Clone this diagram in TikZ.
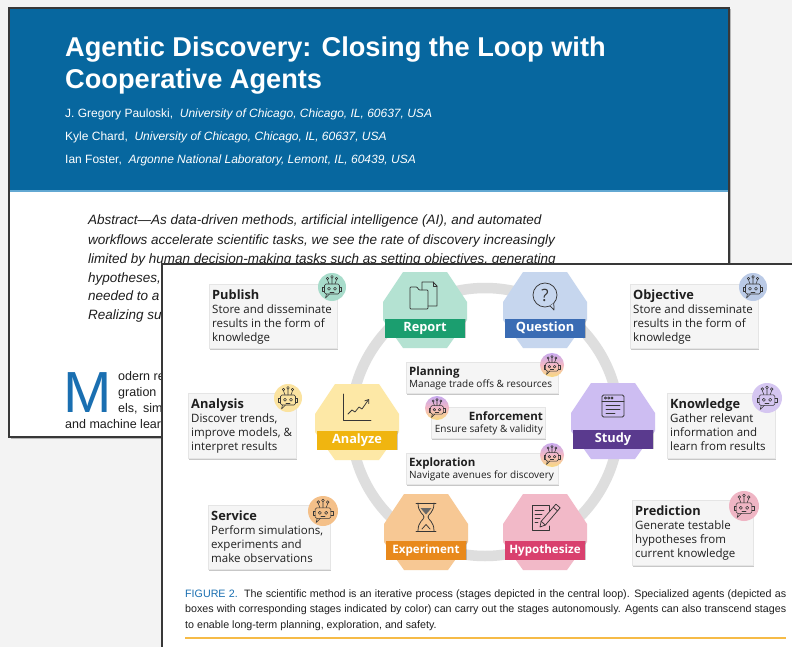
\documentclass[tikz,border=0pt]{standalone}
\usepackage{fontspec}
\setmainfont{Liberation Sans}
\newfontfamily\osans{Open Sans}
\usetikzlibrary{shadows,arrows.meta}

% paper and page colours
\definecolor{deskgray}{HTML}{F3F3F3}
\definecolor{pageedge}{HTML}{383838}
\definecolor{headerblue}{HTML}{07679F}
\definecolor{headerline}{HTML}{62A8D2}
\definecolor{capblue}{HTML}{1A6FB1}
\definecolor{rulegold}{HTML}{F6BB47}
\definecolor{bodyink}{HTML}{1E1E1E}
% diagram colours
\definecolor{ringgray}{HTML}{DEDEDE}
\definecolor{boxgray}{HTML}{F5F5F5}
\definecolor{ink}{HTML}{1F1F1F}
\definecolor{iconink}{HTML}{363636}
\definecolor{reportL}{HTML}{B4E2D2}\definecolor{reportD}{HTML}{1B9E6F}
\definecolor{questionL}{HTML}{C6D6EE}\definecolor{questionD}{HTML}{3A6CB4}
\definecolor{studyL}{HTML}{CDBDF2}\definecolor{studyD}{HTML}{5A3A8E}
\definecolor{hypoL}{HTML}{F2B9C8}\definecolor{hypoD}{HTML}{D9406E}
\definecolor{experL}{HTML}{F7C894}\definecolor{experD}{HTML}{E8891C}
\definecolor{analyzeL}{HTML}{FDE8A6}\definecolor{analyzeD}{HTML}{F0B510}
\definecolor{botmint}{HTML}{A8DCCB}
\definecolor{botblue}{HTML}{BACAE6}
\definecolor{botyellow}{HTML}{FBE3A0}
\definecolor{botlav}{HTML}{D5C6F1}
\definecolor{botpeach}{HTML}{F4C089}
\definecolor{botpink}{HTML}{EFB5C4}
\definecolor{gradtop}{HTML}{C7A9EE}
\definecolor{gradmid}{HTML}{F4B9C4}
\definecolor{gradbot}{HTML}{F7DA7E}

\tikzset{
  agentbox/.style={fill=boxgray, draw=black!10, line width=0.4pt, inner sep=0pt, anchor=north west,
    drop shadow={shadow xshift=1pt, shadow yshift=-1.3pt, opacity=0.22, fill=black}},
  agenttext/.style={anchor=base west, inner sep=0pt, text=ink},
  botdisc/.style={circle, inner sep=0pt},
  stageband/.style={minimum width=80pt, minimum height=19pt, inner sep=0pt, text=white,
    drop shadow={shadow xshift=0.6pt, shadow yshift=-0.8pt, opacity=0.2, fill=black}},
  stageicon/.style={draw=iconink, line width=0.75pt, line cap=round, line join=round},
  paperline/.style={anchor=base west, inner sep=0pt},
}

% agent card text: bold title over body lines
\newcommand\agentpar[3]{%
  \parbox[t]{#1}{\osans\raggedright\fontsize{11.5}{14}\selectfont
    {\fontsize{12.8}{14}\selectfont\bfseries #2}\\#3}}
% smaller cards in the middle of the loop
\newcommand\hubpar[3]{%
  \parbox[t]{150pt}{\osans#1\fontsize{10}{12}\selectfont
    {\fontsize{11.5}{12}\selectfont\bfseries #2}\\#3}}

% line drawing of the agent head inside a disc
\newcommand\botface[2]{%
  \begin{scope}[shift={#1}, yshift=-1pt, scale=#2, draw=iconink, line width=0.55pt, line cap=round, line join=round]
    \draw (-3,-4) -- (-4.5,-8.2) (0,-4) -- (0,-9.8) (3,-4) -- (4.5,-8.2);
    \draw (-4.5,-9.5) circle (1.3) (0,-11.1) circle (1.3) (4.5,-9.5) circle (1.3);
    \draw[rounded corners=1.5pt] (-7.5,-4) rectangle (7.5,6);
    \draw (-7.5,-0.5) -- (-9.5,-0.5) -- (-9.5,3.5) -- (-7.5,3.5);
    \draw (7.5,-0.5) -- (9.5,-0.5) -- (9.5,3.5) -- (7.5,3.5);
    \draw (-3,0.8) circle (1.5) (3,0.8) circle (1.5);
    \draw (-2,3.8) -- (2,3.8);
    \draw (-5.5,6) -- (-6.5,10) -- (-2.5,6);
  \end{scope}}

% stage of the loop: name, centre, light fill, band colour, label, label size, icon
\newcommand\stage[7]{%
  \begin{scope}[shift={#2}]
    \colorlet{hexlight}{#3}
    \fill[#3] (-22,-38) -- (22,-38) -- (42,-8) -- (42,10) -- (22,38) -- (-22,38) -- (-42,10) -- (-42,-8) -- cycle;
    \node[stageband, fill=#4, font=\osans\bfseries\fontsize{#6}{#6}\selectfont] (#1) at (0,18) {#5};
    \begin{scope}[shift={(0,-15)}, stageicon] #7 \end{scope}
  \end{scope}}

\begin{document}
\begin{tikzpicture}[x=1pt, y=-1pt]
\useasboundingbox (0,0) rectangle (792,647);
\clip (0,0) rectangle (792,647);
\fill[deskgray] (0,0) rectangle (792,647);

% ================= article first page (behind) =================
\path[fill=white, drop shadow={shadow xshift=1.5pt, shadow yshift=-1.5pt, opacity=0.25, fill=black}] (9,8) rectangle (729,437);
\fill[headerblue] (9,8) rectangle (729,191);
\draw[headerline, line width=1.2pt] (9,191) -- (729,191);

\node[paperline, text=white, font=\bfseries\fontsize{27.2}{32}\selectfont] (title1) at (65,57) {Agentic Discovery: Closing the Loop with};
\node[paperline, text=white, font=\bfseries\fontsize{27.2}{32}\selectfont] (title2) at (65,89) {Cooperative Agents};

\node[paperline, text=white, font=\fontsize{12}{14}\selectfont] (auth1) at (65,118) {J. Gregory Pauloski,\ \ \textit{University of Chicago, Chicago, IL, 60637, USA}};
\node[paperline, text=white, font=\fontsize{12}{14}\selectfont] (auth2) at (65,141) {Kyle Chard,\ \ \textit{University of Chicago, Chicago, IL, 60637, USA}};
\node[paperline, text=white, font=\fontsize{12}{14}\selectfont] (auth3) at (65,164) {Ian Foster,\ \ \textit{Argonne National Laboratory, Lemont, IL, 60439, USA}};

\begin{scope}[every node/.style={paperline, text=bodyink, font=\itshape\fontsize{13.5}{15}\selectfont}]
  \node (abs1) at (88,225) {Abstract---As data-driven methods, artificial intelligence (AI), and automated};
  \node (abs2) at (88,244) {workflows accelerate scientific tasks, we see the rate of discovery increasingly};
  \node (abs3) at (88,263) {limited by human decision-making tasks such as setting objectives, generating};
  \node (abs4) at (88,282) {hypotheses,};
  \node (abs5) at (88,300) {needed to a};
  \node (abs6) at (88,319) {Realizing su};
\end{scope}

\node[paperline, text=capblue, text depth=0pt, font=\fontsize{58}{58}\selectfont] (dropcap) at (63,412) {M};
\begin{scope}[every node/.style={paperline, text=bodyink, font=\fontsize{12.5}{15}\selectfont}]
  \node (body1) at (118,380) {odern re};
  \node (body2) at (118,396) {gration};
  \node (body3) at (118,412) {els,\hspace{5.5pt}sim};
  \node (body4) at (65,428) {and machine learn};
\end{scope}
\draw[pageedge, line width=1.3pt] (9,8) rectangle (729,437);

% ================= figure page (front) =================
\path[fill=white, draw=pageedge, line width=1.5pt,
  drop shadow={shadow xshift=-1.5pt, shadow yshift=-1.5pt, opacity=0.25, fill=black}] (162,264) rectangle (820,690);

% the loop
\draw[ringgray, line width=10.5pt] (485,422) circle (134);

% stages
\stage{report}{(425,310)}{reportL}{reportD}{Report}{12.8}{%
  \draw (3,11) -- (12,11) -- (12,-9) -- (8,-13) -- (-3,-13) -- (-3,-5);
  \draw (8,-13) -- (8,-9) -- (12,-9);
  \draw[rounded corners=0.8pt] (-15,-8) -- (-8,-8) -- (-6,-5) -- (3,-5) -- (3,14) -- (-15,14) -- cycle;}
\stage{question}{(545,310)}{questionL}{questionD}{Question}{12.8}{%
  \draw (0,0) circle (12);
  \draw[fill=hexlight] (5,10.9) -- (9,15) -- (8.8,8.3);
  \node[font=\osans\fontsize{17}{17}\selectfont, text=iconink, inner sep=0pt] (qmark) at (0,0.5) {?};}
\stage{study}{(613,421)}{studyL}{studyD}{Study}{12.8}{%
  \draw[rounded corners=1.5pt] (-11,-11) rectangle (11,11);
  \draw (-11,-5) -- (11,-5);
  \draw (-7.5,-8) circle (1.1) (-4.3,-8) circle (1.1) (-1.1,-8) circle (1.1);
  \draw (-7,-1) -- (7,-1) (-7,3) -- (7,3) (-7,7) -- (2,7);}
\stage{hypothesize}{(545,532)}{hypoL}{hypoD}{Hypothesize}{11.6}{%
  \draw (4,-3) -- (4,-12) -- (-13,-12) -- (-13,13) -- (4,13) -- (4,9);
  \draw (-10,-7) -- (-1,-7) (-10,-3) -- (-3,-3) (-10,1) -- (-5,1) (-10,5) -- (-7,5);
  \draw[fill=hexlight] (-5,10) -- (0.38,8.03) -- (15.13,-9.18) -- (10.88,-12.82) -- (-3.87,4.38) -- cycle;
  \draw (0.38,8.03) -- (-3.87,4.38) (12.53,-6.14) -- (8.27,-9.78);}
\stage{experiment}{(426,532)}{experL}{experD}{Experiment}{11.6}{%
  \draw (-10,-14) -- (10,-14) (-10,14) -- (10,14);
  \draw (-8,-14) .. controls (-8,-4) and (-2,-3) .. (-2,0) .. controls (-2,3) and (-8,4) .. (-8,14);
  \draw (8,-14) .. controls (8,-4) and (2,-3) .. (2,0) .. controls (2,3) and (8,4) .. (8,14);
  \fill[iconink!75] (-5.5,-9) -- (5.5,-9) -- (0,-2.5) -- cycle;
  \draw (-4,12) -- (0,7.5) -- (4,12);}
\stage{analyze}{(357,422)}{analyzeL}{analyzeD}{Analyze}{12.8}{%
  \draw (-14,-13) -- (-14,13) -- (14,13);
  \draw[-{Straight Barb[length=3.5pt,width=5pt]}] (-9,7) -- (-5,3) -- (-2,5) -- (2,0) -- (5,2) -- (12,-8);}

% agents around the loop
\node[agentbox, minimum width=128pt, minimum height=64pt] (publishcard) at (209,284) {};
\node[agenttext] (publish) at (212,299) {\agentpar{130pt}{Publish}{Store and disseminate\\results in the form of\\knowledge}};
\node[botdisc, fill=botmint, minimum size=28pt] (publishbot) at (332,287) {};
\botface{(publishbot.center)}{1.0}

\node[agentbox, minimum width=128pt, minimum height=64pt] (objectivecard) at (630,284) {};
\node[agenttext] (objective) at (633,299) {\agentpar{130pt}{Objective}{Store and disseminate\\results in the form of\\knowledge}};
\node[botdisc, fill=botblue, minimum size=28pt] (objectivebot) at (753,287) {};
\botface{(objectivebot.center)}{1.0}

\node[agentbox, minimum width=108pt, minimum height=65pt] (analysiscard) at (188,393) {};
\node[agenttext] (analysis) at (191,408) {\agentpar{110pt}{Analysis}{Discover trends,\\improve models, \&\\interpret results}};
\node[botdisc, fill=botyellow, minimum size=28pt] (analysisbot) at (288,398) {};
\botface{(analysisbot.center)}{1.0}

\node[agentbox, minimum width=108pt, minimum height=65pt] (knowledgecard) at (667,393) {};
\node[agenttext] (knowledge) at (670,408) {\agentpar{110pt}{Knowledge}{Gather relevant\\information and\\learn from results}};
\node[botdisc, fill=botlav, minimum size=30pt] (knowledgebot) at (767,398) {};
\botface{(knowledgebot.center)}{1.05}

\node[agentbox, minimum width=122pt, minimum height=64pt] (servicecard) at (208,505) {};
\node[agenttext] (service) at (211,520) {\agentpar{130pt}{Service}{Perform simulations,\\experiments and\\make observations}};
\node[botdisc, fill=botpeach, minimum size=30pt] (servicebot) at (323,511) {};
\botface{(servicebot.center)}{1.05}

\node[agentbox, minimum width=121pt, minimum height=65pt] (predictioncard) at (632,500) {};
\node[agenttext] (prediction) at (635,515) {\agentpar{130pt}{Prediction}{Generate testable\\hypotheses from\\current knowledge}};
\node[botdisc, fill=botpink, minimum size=30pt] (predictionbot) at (744,506) {};
\botface{(predictionbot.center)}{1.05}

% agents that span all stages
\node[agentbox, minimum width=152pt, minimum height=31pt] (planningcard) at (406,362) {};
\node[agenttext] (planning) at (409,375) {\hubpar{\raggedright}{Planning}{Manage trade offs \& resources}};
\node[botdisc, top color=gradtop, bottom color=gradbot, middle color=gradmid, minimum size=24pt] (planningbot) at (552,365) {};
\botface{(planningbot.center)}{0.85}

\node[agentbox, minimum width=114pt, minimum height=31pt] (enforcementcard) at (431,407) {};
\node[agenttext, anchor=base east] (enforcement) at (543,420) {\hubpar{\raggedleft}{Enforcement}{Ensure safety \& validity}};
\node[botdisc, top color=gradtop, bottom color=gradbot, middle color=gradmid, minimum size=24pt] (enforcementbot) at (437,408) {};
\botface{(enforcementbot.center)}{0.85}

\node[agentbox, minimum width=152pt, minimum height=31pt] (explorationcard) at (406,453) {};
\node[agenttext] (exploration) at (409,466) {\hubpar{\raggedright}{Exploration}{Navigate avenues for discovery}};
\node[botdisc, top color=gradtop, bottom color=gradbot, middle color=gradmid, minimum size=24pt] (explorationbot) at (552,455) {};
\botface{(explorationbot.center)}{0.85}

% caption
\begin{scope}[every node/.style={paperline, text=bodyink, font=\fontsize{10.7}{12}\selectfont}]
  \node (cap1) at (185,597) {\makebox[601pt][s]{\textcolor{capblue}{FIGURE 2.}\ \ The scientific method is an iterative process (stages depicted in the central loop). Specialized agents (depicted as}};
  \node (cap2) at (185,612) {\makebox[601pt][s]{boxes with corresponding stages indicated by color) can carry out the stages autonomously. Agents can also transcend stages}};
  \node (cap3) at (185,628) {to enable long-term planning, exploration, and safety.};
\end{scope}
\coordinate (ruleL) at (185,638);
\coordinate (ruleR) at (786,638);
\draw[rulegold, line width=1.6pt] (ruleL) -- (ruleR);
\end{tikzpicture}
\end{document}
